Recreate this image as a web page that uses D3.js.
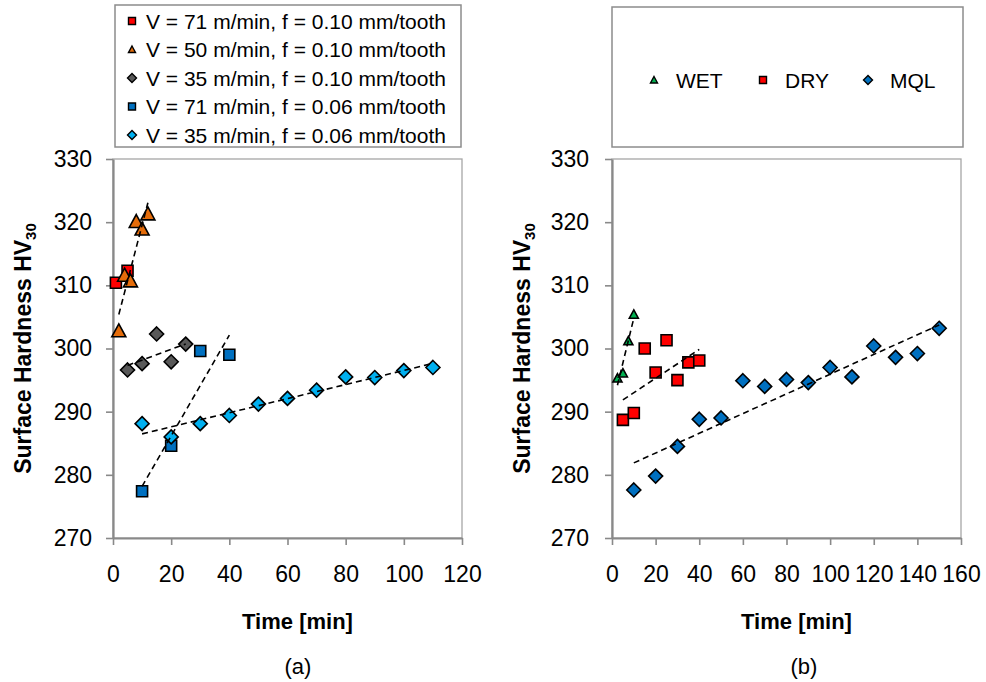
<!DOCTYPE html>
<html>
<head>
<meta charset="utf-8">
<script src="https://cdn.jsdelivr.net/npm/d3@7"></script>
<style>
  body { margin: 0; background: #fff; }
  text { font-family: Arial, "Liberation Sans", sans-serif; fill: #000; }
</style>
</head>
<body>
<script>
/* ---------- data : panel (a) ---------- */
const labelsA = [
  "V = 71 m/min, f = 0.10 mm/tooth",
  "V = 50 m/min, f = 0.10 mm/tooth",
  "V = 35 m/min, f = 0.10 mm/tooth",
  "V = 71 m/min, f = 0.06 mm/tooth",
  "V = 35 m/min, f = 0.06 mm/tooth"
];
const timeA1 = [1, 5];
const hvA1 = [310.4, 312.3];
const timeA2 = [2, 4, 6, 8, 10, 12];
const hvA2 = [302.8, 311.6, 310.7, 320.1, 318.9, 321.3];
const timeA3 = [5, 10, 15, 20, 25];
const hvA3 = [296.6, 297.6, 302.3, 297.9, 300.7];
const timeA4 = [10, 20, 30, 40];
const hvA4 = [277.4, 284.6, 299.6, 299.0];
const timeA5 = [10, 20, 30, 40, 50, 60, 70, 80, 90, 100, 110];
const hvA5 = [288.1, 286.0, 288.1, 289.4, 291.2, 292.1, 293.4, 295.5, 295.4, 296.5, 297.0];

/* ---------- data : panel (b) ---------- */
const labelsB = ["WET", "DRY", "MQL"];
const timeWet = [2.5, 5, 7.5, 10];
const hvWet = [295.3, 296.1, 301.2, 305.4];
const timeDry = [5, 10, 15, 20, 25, 30, 35, 40];
const hvDry = [288.7, 289.8, 300.0, 296.2, 301.3, 295.0, 297.8, 298.1];
const timeMql = [10, 20, 30, 40, 50, 60, 70, 80, 90, 100, 110, 120, 130, 140, 150];
const hvMql = [277.6, 279.8, 284.5, 288.8, 289.0, 294.9, 294.0, 295.1, 294.6, 297.0, 295.5, 300.4, 298.6, 299.2, 303.2];

/* ---------- ticks ---------- */
const yTicks = [270, 280, 290, 300, 310, 320, 330];
const xTicksA = [0, 20, 40, 60, 80, 100, 120];
const xTicksB = [0, 20, 40, 60, 80, 100, 120, 140, 160];

const W = 986, H = 682;
const svg = d3.select("body").append("svg").attr("width", W).attr("height", H);

// marker outline, centred on 0,0
function markerPath(shape, s) {
  const h = s / 2;
  if (shape === "square") return `M${-h},${-h}H${h}V${h}H${-h}Z`;
  if (shape === "diamond") return `M0,${-h}L${h},0L0,${h}L${-h},0Z`;
  // triangle
  return `M0,${-h}L${h},${h * 0.85}L${-h},${h * 0.85}Z`;
}

// least squares trend line, like the spreadsheet one
function trend(xs, ys) {
  const mx = d3.mean(xs), my = d3.mean(ys);
  let sxy = 0, sxx = 0;
  xs.forEach((v, i) => { sxy += (v - mx) * (ys[i] - my); sxx += (v - mx) * (v - mx); });
  const b = sxy / sxx, a = my - b * mx;
  const x0 = d3.min(xs), x1 = d3.max(xs);
  return [[x0, a + b * x0], [x1, a + b * x1]];
}

function drawPanel(p) {
  const x = d3.scaleLinear().domain([0, p.xMax]).range([p.left, p.right]);
  const y = d3.scaleLinear().domain([270, 330]).range([538, 159]);
  const g = svg.append("g");

  // plot frame
  g.append("rect")
    .attr("x", p.left).attr("y", y(330))
    .attr("width", p.right - p.left).attr("height", y(270) - y(330))
    .attr("fill", "none").attr("stroke", "#a6a6a6").attr("stroke-width", 1.3);

  const yAxis = g.append("g")
    .attr("transform", `translate(${p.left},0)`)
    .call(d3.axisLeft(y).tickValues(yTicks).tickSize(7).tickSizeOuter(0).tickPadding(p.yPad));
  const xAxis = g.append("g")
    .attr("transform", `translate(0,${y(270)})`)
    .call(d3.axisBottom(x).tickValues(p.xTicks).tickSize(7).tickSizeOuter(0).tickPadding(21));

  [yAxis, xAxis].forEach((ax) => {
    ax.select(".domain").attr("stroke", "#898989").attr("stroke-width", 2.2);
    ax.selectAll(".tick line").attr("stroke", "#898989").attr("stroke-width", 1.6);
    ax.selectAll(".tick text").attr("font-size", 23).attr("font-family", null).attr("fill", "#000");
  });

  // markers
  p.series.forEach((s) => {
    g.append("g").selectAll("path")
      .data(s.t.map((t, i) => [t, s.v[i]]))
      .enter().append("path")
      .attr("d", markerPath(s.shape, s.size))
      .attr("transform", (d) => `translate(${x(d[0])},${y(d[1])})`)
      .attr("fill", s.color).attr("stroke", "#000").attr("stroke-width", 1.6);
  });

  // dashed trend lines on top
  const line = d3.line().x((d) => x(d[0])).y((d) => y(d[1]));
  p.series.filter((s) => s.trend).forEach((s) => {
    g.append("path")
      .attr("d", line(trend(s.t, s.v)))
      .attr("fill", "none").attr("stroke", "#000")
      .attr("stroke-width", 1.6).attr("stroke-dasharray", "6,4");
  });

  // axis titles
  const yt = g.append("text")
    .attr("transform", `translate(${p.yTitleX},${(y(270) + y(330)) / 2}) rotate(-90)`)
    .attr("text-anchor", "middle").attr("font-weight", "bold").attr("font-size", 23);
  yt.append("tspan").text("Surface Hardness HV");
  yt.append("tspan").attr("font-size", 15).attr("dy", 5).text("30");

  g.append("text")
    .attr("x", (p.left + p.right) / 2 + 10).attr("y", 629)
    .attr("text-anchor", "middle").attr("font-weight", "bold").attr("font-size", 22)
    .text("Time [min]");

  g.append("text")
    .attr("x", p.capX).attr("y", 674)
    .attr("text-anchor", "middle").attr("font-size", 22)
    .text(p.caption);
}

const seriesA = [
  { t: timeA1, v: hvA1, color: "#ff0000", shape: "square", size: 11, trend: false },
  { t: timeA2, v: hvA2, color: "#e46c0a", shape: "triangle", size: 14, trend: true },
  { t: timeA3, v: hvA3, color: "#595959", shape: "diamond", size: 14, trend: true },
  { t: timeA4, v: hvA4, color: "#0070c0", shape: "square", size: 11, trend: true },
  { t: timeA5, v: hvA5, color: "#00b0f0", shape: "diamond", size: 14, trend: true }
];
const seriesB = [
  { t: timeWet, v: hvWet, color: "#00b050", shape: "triangle", size: 9, trend: true },
  { t: timeDry, v: hvDry, color: "#ff0000", shape: "square", size: 11, trend: true },
  { t: timeMql, v: hvMql, color: "#0070c0", shape: "diamond", size: 14, trend: true }
];

drawPanel({ xMax: 120, left: 113, right: 462, xTicks: xTicksA, series: seriesA,
  yPad: 14, yTitleX: 31, capX: 298, caption: "(a)" });
drawPanel({ xMax: 160, left: 612, right: 961, xTicks: xTicksB, series: seriesB,
  yPad: 16, yTitleX: 530, capX: 804, caption: "(b)" });

/* ---------- legends ---------- */
const legA = svg.append("g");
legA.append("rect").attr("x", 115).attr("y", 5).attr("width", 346).attr("height", 142)
  .attr("fill", "#fff").attr("stroke", "#8c8c8c").attr("stroke-width", 1.5);
const rowY = d3.scalePoint().domain(d3.range(labelsA.length)).range([21, 135]);
labelsA.forEach((lab, i) => {
  const s = seriesA[i];
  legA.append("path")
    .attr("d", markerPath(s.shape, s.shape === "diamond" ? 9 : 7))
    .attr("transform", `translate(132,${rowY(i)})`)
    .attr("fill", s.color).attr("stroke", "#000").attr("stroke-width", 1.4);
  legA.append("text").attr("x", 146).attr("y", rowY(i)).attr("dy", "0.36em")
    .attr("font-size", 21).text(lab);
});

const legB = svg.append("g");
legB.append("rect").attr("x", 612).attr("y", 7).attr("width", 351).attr("height", 140)
  .attr("fill", "#fff").attr("stroke", "#8c8c8c").attr("stroke-width", 1.5);
const colX = [654, 763, 868];
labelsB.forEach((lab, i) => {
  const s = seriesB[i];
  legB.append("path")
    .attr("d", markerPath(s.shape, s.shape === "diamond" ? 9 : 7))
    .attr("transform", `translate(${colX[i]},80)`)
    .attr("fill", s.color).attr("stroke", "#000").attr("stroke-width", 1.4);
  legB.append("text").attr("x", colX[i] + 22).attr("y", 80).attr("dy", "0.36em")
    .attr("font-size", 21).text(lab);
});
</script>
</body>
</html>
